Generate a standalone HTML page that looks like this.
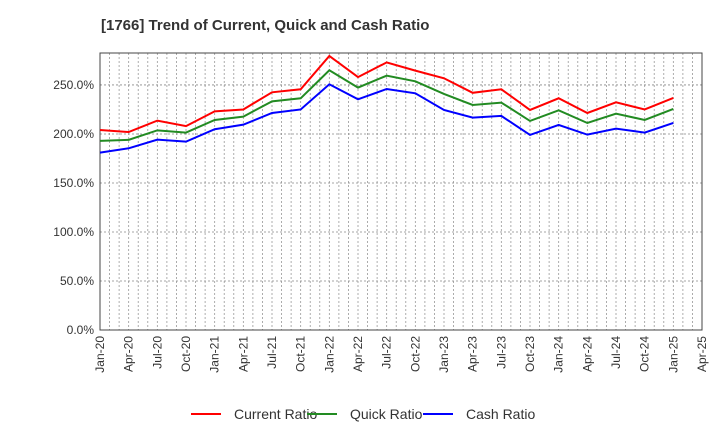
<!DOCTYPE html>
<html><head><meta charset="utf-8"><style>
body{margin:0;background:#fff;font-family:"Liberation Sans",sans-serif}
svg text{font-family:"Liberation Sans",sans-serif}
</style></head><body>
<svg id="chart" width="720" height="440">
<text x="101" y="30" font-size="15" font-weight="bold" fill="#333">[1766]  Trend of Current, Quick and Cash Ratio</text>
<g id="grid"></g><g id="axes"></g><g id="series"></g><g id="legend"></g>
</svg>
<script>
const categories=["Jan-20","Apr-20","Jul-20","Oct-20","Jan-21","Apr-21","Jul-21","Oct-21","Jan-22","Apr-22","Jul-22","Oct-22","Jan-23","Apr-23","Jul-23","Oct-23","Jan-24","Apr-24","Jul-24","Oct-24","Jan-25","Apr-25"];
const currentRatio=[204,202,213.6,208,223,225,242.5,245.6,279.6,258,273,264.6,256.8,242,245.6,224.5,236.4,221.4,232.3,225,236.7];
const quickRatio=[192.9,194,203.7,201.4,214.3,217.7,233.3,236.4,265,247.3,259.5,253.7,240.8,229.6,232,213.3,224.1,211.2,220.7,214.3,225.5];
const cashRatio=[181,185.4,194.2,192.2,204.8,209.5,221.4,225,250.7,235.4,245.9,241.5,224.5,216.7,218.4,199,209.2,199.3,205.4,201.4,211.2];
const yTicks=[0,50,100,150,200,250];
const NS="http://www.w3.org/2000/svg";
const L=100,R=702,T=53,B=330;
const x=i=>L+i*(R-L)/(categories.length-1);
const y=v=>B-v*(B-T)/282.6;
function mk(tag,attrs,parent){const e=document.createElementNS(NS,tag);for(const k in attrs)e.setAttribute(k,attrs[k]);parent.appendChild(e);return e;}
const grid=document.getElementById('grid'),axes=document.getElementById('axes'),ser=document.getElementById('series'),leg=document.getElementById('legend');
for(let i=0;i<categories.length*3-2;i++){const xx=L+i*(R-L)/((categories.length-1)*3);
 const g=mk('line',{x1:xx,x2:xx,y1:T,y2:B,stroke:'#999','stroke-width':0.8,'stroke-dasharray':'2,2'},grid);
 
 }
yTicks.forEach(v=>{const g=mk('line',{x1:L,x2:R,y1:y(v),y2:y(v),stroke:'#888','stroke-width':0.8,'stroke-dasharray':'2,2'},grid);
 
 
 const t=mk('text',{x:94,y:y(v)+4,'text-anchor':'end','font-size':12,fill:'#333'},axes);t.textContent=v.toFixed(1)+'%';
 
 });
const fr=mk('rect',{x:L,y:T,width:R-L,height:B-T,fill:'none',stroke:'#444','stroke-width':1},axes);


categories.forEach((c,i)=>{const t=mk('text',{transform:`translate(${x(i)+4},336) rotate(-90)`,'text-anchor':'end','font-size':12,fill:'#333'},axes);t.textContent=c;
 
 });
const S=[["Current Ratio",currentRatio,"#ff0000"],["Quick Ratio",quickRatio,"#228b22"],["Cash Ratio",cashRatio,"#0000ff"]];
S.forEach(([n,d,c],k)=>{const p=mk('polyline',{points:d.map((v,i)=>x(i)+','+y(v)).join(' '),fill:'none',stroke:c,'stroke-width':2},ser);
 
 
 const lx=[191,307,423][k];
 const g=mk('g',{},leg);
 
 
 mk('line',{x1:lx,x2:lx+30,y1:414,y2:414,stroke:c,'stroke-width':2},g);
 const t=mk('text',{x:lx+43,y:419,'font-size':14,fill:'#333'},g);t.textContent=n;});
</script>
</body></html>
